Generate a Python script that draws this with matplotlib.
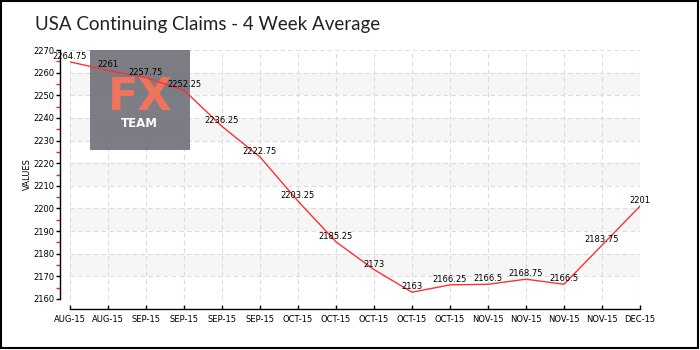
import matplotlib
matplotlib.use("Agg")
import matplotlib.pyplot as plt
from matplotlib.patches import Rectangle

# Weekly series: continuing claims, 4-week average (thousands)
labels = ["AUG-15", "AUG-15", "SEP-15", "SEP-15", "SEP-15", "SEP-15",
          "OCT-15", "OCT-15", "OCT-15", "OCT-15", "OCT-15",
          "NOV-15", "NOV-15", "NOV-15", "NOV-15", "DEC-15"]
values = [2264.75, 2261, 2257.75, 2252.25, 2236.25, 2222.75, 2203.25,
          2185.25, 2173, 2163, 2166.25, 2166.5, 2168.75, 2166.5,
          2183.75, 2201]
value_text = ["2264.75", "2261", "2257.75", "2252.25", "2236.25", "2222.75",
              "2203.25", "2185.25", "2173", "2163", "2166.25", "2166.5",
              "2168.75", "2166.5", "2183.75", "2201"]

ymin, ymax = 2160, 2270

W, H = 700, 350
fig = plt.figure(figsize=(7, 3.5), dpi=100)
fig.patch.set_facecolor("white")

# outer frame
fig.add_artist(Rectangle((1 / W, 2 / H), 697 / W, 347 / H, transform=fig.transFigure,
                         fill=False, edgecolor="black", linewidth=1.5))

left, right = 70 / W, 640 / W
bottom, top = (H - 299) / H, (H - 50) / H
ax = fig.add_axes([left, bottom, right - left, top - bottom])

x = list(range(len(values)))
ax.set_xlim(0, len(values) - 1)
ax.set_ylim(ymin, ymax)

# alternating horizontal bands
for lo in range(2170, 2260, 20):
    ax.axhspan(lo, lo + 10, color="#f6f6f6", zorder=0, linewidth=0)

ax.set_yticks(range(ymin, ymax + 1, 10))
ax.set_yticks(range(ymin + 5, ymax, 10), minor=True)
ax.set_xticks(x)
ax.set_xticklabels(labels)

ax.grid(True, which="major", linestyle=(0, (4, 3)), color="#dcdcdc", linewidth=0.8, zorder=1)
ax.set_axisbelow(True)

for s in ["top", "right"]:
    ax.spines[s].set_visible(False)
ax.spines["left"].set_position(("outward", 7.2))
ax.spines["bottom"].set_position(("outward", 7.5))
ax.spines["left"].set_linewidth(1.0)
ax.spines["bottom"].set_linewidth(1.0)

ax.tick_params(axis="y", which="major", direction="out", length=3, width=1,
               labelsize=6, pad=1, color="black")
ax.tick_params(axis="y", which="minor", direction="out", length=3, width=1, color="#ff2020")
ax.tick_params(axis="x", which="major", direction="in", length=3, width=1,
               labelsize=6, pad=4, color="black")

# watermark
wm_x0, wm_y0 = 90 / W, (H - 150) / H
fig.add_artist(Rectangle((wm_x0, wm_y0), 100 / W, 100 / H, transform=fig.transFigure,
                         facecolor="#6e6f78", alpha=0.9, edgecolor="none", zorder=2))
fig.text(140 / W, (H - 92.5) / H, "FX", color="#f0735c", fontsize=32, ha="center",
         va="center_baseline", family="DejaVu Sans", fontweight="bold", zorder=3)
fig.text(139 / W, (H - 122) / H, "TEAM", color="white", fontsize=8.5, ha="center",
         va="center_baseline", family="DejaVu Sans", fontweight="bold", zorder=3)

line_ax = fig.add_axes(ax.get_position(), sharex=ax, sharey=ax, zorder=5)
line_ax.patch.set_visible(False)
line_ax.axis("off")
line_ax.plot(x, values, color="#ff3030", linewidth=1.0)
for xi, v, t in zip(x, values, value_text):
    line_ax.annotate(t, (xi, v), xytext=(0, 4), textcoords="offset points",
                     ha="center", va="center", fontsize=6, color="black")

ax.set_ylabel("VALUES", fontsize=6, labelpad=1)

fig.text(35 / W, (H - 23) / H, "USA Continuing Claims - 4 Week Average", fontsize=13.5,
         color="#222222", ha="left", va="center_baseline", family="Lato")

fig.savefig("out.png", dpi=100)
